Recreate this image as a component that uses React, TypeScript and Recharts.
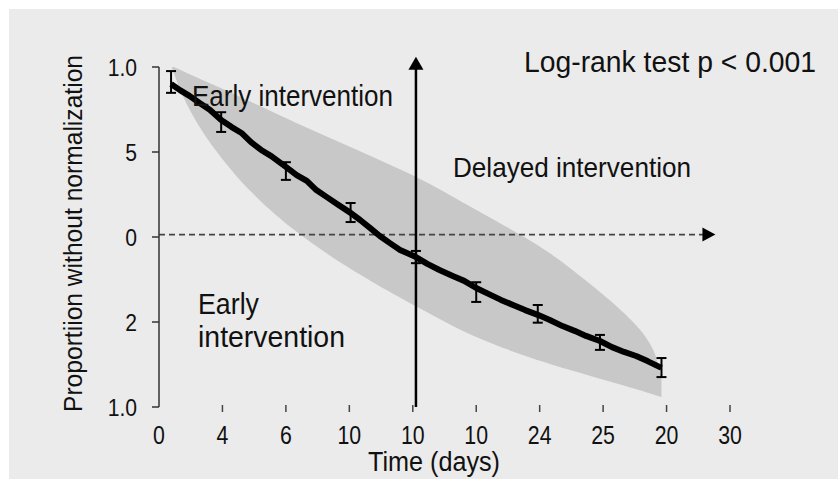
import React from 'react';
import {
  ComposedChart,
  XAxis,
  YAxis,
  Line,
  Area,
  Scatter,
  ErrorBar,
  ReferenceLine,
} from 'recharts';

// ---- axis ticks (positions are index units; labels as printed) ----
const xTickValues = [0, 1, 2, 3, 4, 5, 6, 7, 8, 9];
const xTickLabels = ['0', '4', '6', '10', '10', '10', '24', '25', '20', '30'];
const yTickValues = [0, 0.25, 0.5, 0.75, 1];
const yTickLabels = ['1.0', '2', '0', '5', '1.0'];

// ---- survival curve ----
const curveX = [
  0.19, 0.33, 0.48, 0.64, 0.8, 0.98, 1.14, 1.3, 1.45, 1.61, 1.77, 2.0, 2.17, 2.33, 2.48,
  2.64, 2.83, 3.02, 3.17, 3.33, 3.48, 3.64, 3.8, 4.05, 4.23, 4.42, 4.63, 4.81, 5.0, 5.2,
  5.39, 5.58, 5.77, 5.97, 6.16, 6.36, 6.55, 6.73, 6.95, 7.14, 7.33, 7.52, 7.7, 7.92,
];
const curveY = [
  0.95, 0.932, 0.915, 0.894, 0.874, 0.844, 0.824, 0.806, 0.779, 0.756, 0.738, 0.706, 0.682,
  0.665, 0.638, 0.618, 0.594, 0.571, 0.55, 0.526, 0.503, 0.482, 0.462, 0.441, 0.421, 0.403,
  0.385, 0.371, 0.35, 0.332, 0.315, 0.3, 0.285, 0.271, 0.256, 0.238, 0.224, 0.209, 0.194,
  0.176, 0.162, 0.15, 0.135, 0.115,
];

// ---- error bars ----
const ebX = [0.19, 0.98, 2.0, 3.02, 4.05, 5.0, 5.97, 6.95, 7.92];
const ebY = [0.956, 0.838, 0.694, 0.572, 0.441, 0.338, 0.274, 0.19, 0.116];
const ebErr = [0.032, 0.029, 0.026, 0.028, 0.018, 0.029, 0.026, 0.022, 0.028];

// ---- confidence band ----
const bandX = [0.2, 0.375, 0.64, 0.906, 1.42, 2.2, 2.98, 3.72, 4.23, 4.94, 5.95, 6.42, 6.92, 7.52, 7.83, 7.92];
const bandLow = [1.0, 0.909, 0.821, 0.75, 0.632, 0.506, 0.409, 0.329, 0.279, 0.206, 0.138, 0.112, 0.085, 0.053, 0.035, 0.029];
const bandHigh = [1.003, 0.988, 0.965, 0.944, 0.9, 0.832, 0.768, 0.706, 0.662, 0.585, 0.482, 0.418, 0.344, 0.247, 0.168, 0.079];

// ---- reference markers ----
const delayX = 4.05;
const arrowTopY = 1.03;
const midY = 0.507;
const midArrowEndX = 8.77;

const curveData = curveX.map((x, i) => ({ x, y: curveY[i] }));
const ebData = ebX.map((x, i) => ({ x, y: ebY[i], err: ebErr[i] }));
const bandData = bandX.map((x, i) => ({ x, band: [bandLow[i], bandHigh[i]] }));

const FONT = "'Liberation Sans', Arial, sans-serif";
const INK = '#111';

const XTick = (props: any) => {
  const { x, y, payload } = props;
  const label = xTickLabels[payload.value] ?? '';
  return (
    <g transform={`translate(${x},${y})`}>
      {payload.value !== 0 && (
        <line x1={0} x2={0} y1={-20} y2={-13} stroke="#444" strokeWidth={1.5} />
      )}
      <g transform="scale(0.82,1)">
        <text x={0} y={19} textAnchor="middle" fontFamily={FONT} fontSize={26} fill={INK}>
          {label}
        </text>
      </g>
    </g>
  );
};

const YTick = (props: any) => {
  const { x, y, payload } = props;
  const idx = yTickValues.indexOf(payload.value);
  const label = idx >= 0 ? yTickLabels[idx] : '';
  return (
    <g transform={`translate(${x},${y}) scale(0.88,1)`}>
      <text x={0} y={8.5} textAnchor="end" fontFamily={FONT} fontSize={24} fill={INK}>
        {label}
      </text>
    </g>
  );
};

const VArrow = (props: any) => {
  const { x1, y1, x2, y2 } = props;
  return (
    <g>
      <line x1={x1} y1={y1} x2={x2} y2={y2 + 12} stroke="#000" strokeWidth={2.5} />
      <polygon points={`${x2},${y2} ${x2 - 7.5},${y2 + 13} ${x2 + 7.5},${y2 + 13}`} fill="#000" />
    </g>
  );
};

const HArrow = (props: any) => {
  const { x1, y1, x2, y2 } = props;
  return (
    <g>
      <line x1={x1} y1={y1} x2={x2 - 12} y2={y2} stroke="#444" strokeWidth={1.6} strokeDasharray="6 4" />
      <polygon points={`${x2},${y2} ${x2 - 13},${y2 - 7} ${x2 - 13},${y2 + 7}`} fill="#000" />
    </g>
  );
};

const T = (p: { x: number; y: number; size: number; len: number; children: string }) => (
  <text
    x={p.x}
    y={p.y}
    fontFamily={FONT}
    fontSize={p.size}
    fill={INK}
    textLength={p.len}
    lengthAdjust="spacingAndGlyphs"
  >
    {p.children}
  </text>
);

const Overlay = () => (
  <svg
    width={838}
    height={479}
    style={{ position: 'absolute', left: 0, top: 0, pointerEvents: 'none' }}
  >
    <T x={524} y={72} size={30} len={292}>Log-rank test p &lt; 0.001</T>
    <T x={192} y={106} size={29} len={201}>Early intervention</T>
    <T x={453} y={177} size={28} len={238}>Delayed intervention</T>
    <T x={198} y={314} size={29} len={61}>Early</T>
    <T x={198} y={347} size={29} len={147}>intervention</T>
    <T x={368} y={471} size={27} len={132}>Time (days)</T>
    <g transform="translate(82,233.5) rotate(-90)">
      <text
        x={0}
        y={0}
        textAnchor="middle"
        fontFamily={FONT}
        fontSize={25.5}
        fill={INK}
        textLength={357}
        lengthAdjust="spacingAndGlyphs"
      >
        Proportiion without normalization
      </text>
    </g>
  </svg>
);

export default function App() {
  return (
    <div style={{ position: 'absolute', left: 0, top: 0, width: 838, height: 479, background: '#fff' }}>
      <div
        style={{ position: 'absolute', left: 9, top: 9, width: 829, height: 470, background: '#ebebeb' }}
      />
      <div style={{ position: 'absolute', left: 0, top: 0 }}>
        <ComposedChart
          width={838}
          height={479}
          margin={{ top: 67, right: 108, bottom: 12, left: 79 }}
        >
          <XAxis
            dataKey="x"
            type="number"
            domain={[0, 9]}
            ticks={xTickValues}
            interval={0}
            allowDataOverflow
            axisLine={false}
            tickLine={false}
            tickSize={5}
            tickMargin={13}
            height={60}
            tick={<XTick />}
          />
          <YAxis
            type="number"
            domain={[0, 1]}
            ticks={yTickValues}
            interval={0}
            allowDataOverflow
            width={80}
            axisLine={{ stroke: '#333', strokeWidth: 1.5 }}
            tickLine={{ stroke: '#333', strokeWidth: 1.5 }}
            tickSize={7}
            tickMargin={15}
            tick={<YTick />}
          />
          <Area
            data={bandData}
            dataKey="band"
            type="basis"
            fill="#c8c8c8"
            fillOpacity={1}
            stroke="none"
            isAnimationActive={false}
            dot={false}
            activeDot={false}
          />
          <ReferenceLine
            segment={[
              { x: 0, y: midY },
              { x: midArrowEndX, y: midY },
            ]}
            ifOverflow="visible"
            shape={<HArrow />}
          />
          <Line
            data={curveData}
            dataKey="y"
            type="linear"
            stroke="#000"
            strokeWidth={6}
            strokeLinejoin="round"
            dot={false}
            activeDot={false}
            isAnimationActive={false}
          />
          <Scatter data={ebData} dataKey="y" shape={() => <g />} isAnimationActive={false}>
            <ErrorBar dataKey="err" direction="y" width={5} strokeWidth={2} stroke="#000" />
          </Scatter>
          <ReferenceLine
            segment={[
              { x: delayX, y: 0 },
              { x: delayX, y: arrowTopY },
            ]}
            ifOverflow="visible"
            shape={<VArrow />}
          />
        </ComposedChart>
      </div>
      <Overlay />
    </div>
  );
}
